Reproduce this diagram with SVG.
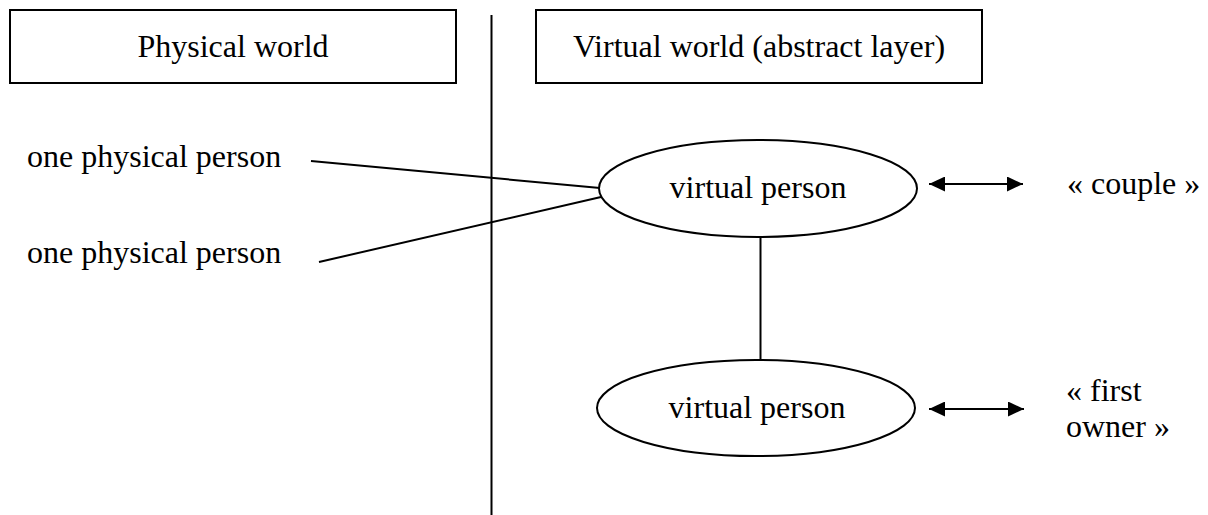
<svg xmlns="http://www.w3.org/2000/svg" width="1208" height="515" viewBox="0 0 1208 515">
  <style>
    text { font-family: "Liberation Serif", "Times New Roman", serif; font-size: 32px; fill: #000; }
    .mid { text-anchor: middle; }
    .shape { fill: #fff; stroke: #000; stroke-width: 2; }
    .line { fill: none; stroke: #000; stroke-width: 2; }
  </style>
  <defs>
    <marker id="head" viewBox="0 0 16 15" refX="16" refY="7.5" markerWidth="16" markerHeight="15" markerUnits="userSpaceOnUse" orient="auto-start-reverse">
      <path d="M0,0 L16,7.5 L0,15 Z" fill="#000"/>
    </marker>
  </defs>

  <!-- divider between the two worlds -->
  <line class="line" x1="491.5" y1="15" x2="491.5" y2="515"/>

  <g id="connectors">
    <line class="line" x1="311" y1="161" x2="600" y2="188"/>
    <line class="line" x1="319" y1="262" x2="601" y2="197"/>
    <line class="line" x1="760.5" y1="237" x2="760.5" y2="360"/>
    <line class="line" x1="929" y1="184" x2="1023" y2="184" marker-start="url(#head)" marker-end="url(#head)"/>
    <line class="line" x1="929" y1="409" x2="1024" y2="409" marker-start="url(#head)" marker-end="url(#head)"/>
  </g>

  <g id="physical-world">
    <rect class="shape" x="10" y="10" width="446" height="73"/>
    <text class="mid" x="233" y="57">Physical world</text>
  </g>

  <g id="virtual-world">
    <rect class="shape" x="536" y="10" width="446" height="73"/>
    <text class="mid" x="759" y="57">Virtual world (abstract layer)</text>
  </g>

  <g id="physical-person-1">
    <text x="27" y="167">one physical person</text>
  </g>

  <g id="physical-person-2">
    <text x="27" y="263">one physical person</text>
  </g>

  <g id="virtual-person-couple">
    <ellipse class="shape" cx="758" cy="188.5" rx="159" ry="48.5"/>
    <text class="mid" x="758" y="198">virtual person</text>
  </g>

  <g id="virtual-person-owner">
    <ellipse class="shape" cx="756" cy="408" rx="159" ry="48"/>
    <text class="mid" x="757" y="418">virtual person</text>
  </g>

  <g id="label-couple">
    <text x="1067" y="194">« couple »</text>
  </g>

  <g id="label-first-owner">
    <text x="1066" y="401">« first</text>
    <text x="1066" y="437">owner »</text>
  </g>
</svg>
